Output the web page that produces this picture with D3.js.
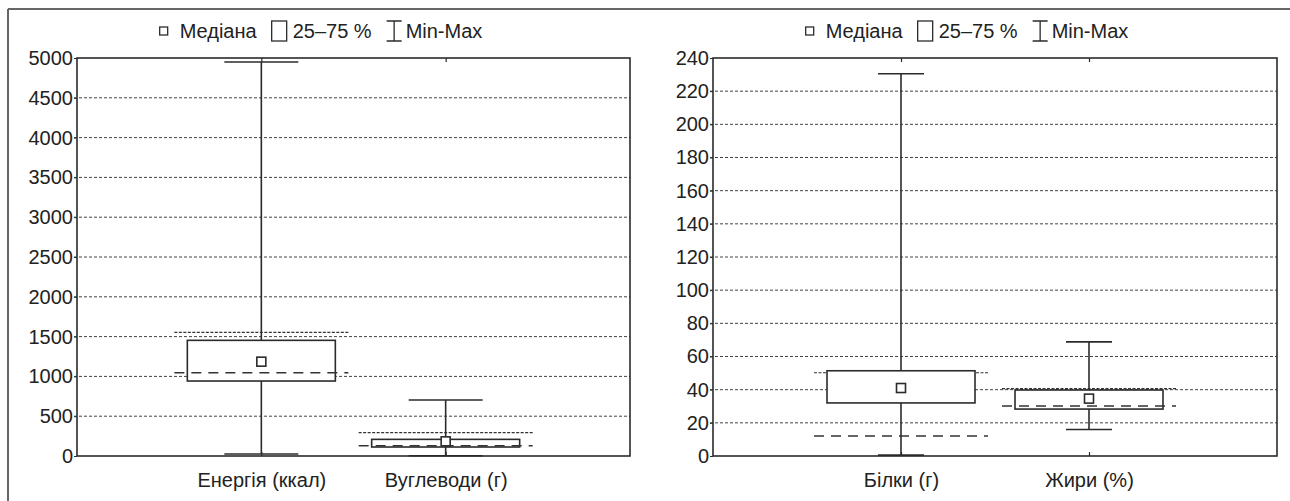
<!DOCTYPE html>
<html><head><meta charset="utf-8">
<script src="https://cdn.jsdelivr.net/npm/d3@7"></script>
<style>
body{margin:0;background:#fff;}
text{font-family:"Liberation Sans",Arial,sans-serif;fill:#222;}
</style></head><body>
<svg id="c" width="1290" height="501"></svg>
<script>
// ---------- data ----------
const leftCats = ["Енергія (ккал)", "Вуглеводи (г)"];
const leftMin = [25, 4];
const leftQ1 = [942, 113];
const leftMedian = [1185, 184];
const leftQ3 = [1453, 209];
const leftMax = [4950, 703];
const leftRefUpper = [1554, 293];
const leftRefLower = [1047, 130];
const leftTicks = [0, 500, 1000, 1500, 2000, 2500, 3000, 3500, 4000, 4500, 5000];

const rightCats = ["Білки (г)", "Жири (%)"];
const rightMin = [0.5, 16];
const rightQ1 = [32, 28.3];
const rightMedian = [41, 34.6];
const rightQ3 = [51.4, 39.8];
const rightMax = [230.5, 68.8];
const rightRefUpper = [50.2, 40.6];
const rightRefLower = [12, 30.2];
const rightTicks = [0, 20, 40, 60, 80, 100, 120, 140, 160, 180, 200, 220, 240];

const legendLabels = ["Медіана", "25–75 %", "Min-Max"];

// ---------- drawing ----------
const svg = d3.select("#c");
const FONT = 20;
const INK = "#2b2b2b";

// outer border
svg.append("line").attr("x1",8).attr("x2",1290).attr("y1",9).attr("y2",9)
  .attr("stroke","#666").attr("stroke-width",2);
svg.append("line").attr("x1",8).attr("x2",8).attr("y1",9).attr("y2",501)
  .attr("stroke","#666").attr("stroke-width",2);

function panel(cfg){
  const {x0,x1,y0,y1,domain,ticks,cats,mn,q1,med,q3,mx,refU,refL,capHalf,legendCx} = cfg;
  const g = svg.append("g");
  const y = d3.scaleLinear().domain(domain).range([y1,y0]);
  const x = d3.scalePoint().domain(cats).range([x0,x1]).padding(1);

  // gridlines
  g.selectAll(".grid").data(ticks.filter(t=>t!==domain[0] && t!==domain[1])).enter()
    .append("line").attr("x1",x0-3).attr("x2",x1).attr("y1",d=>y(d)).attr("y2",d=>y(d))
    .attr("stroke","#444").attr("stroke-width",1).attr("stroke-dasharray","3,2");

  // y axis labels via d3 axis
  const ax = g.append("g").attr("transform",`translate(${x0},0)`)
    .call(d3.axisLeft(y).tickValues(ticks).tickSize(3).tickPadding(1).tickFormat(d3.format("d")));
  ax.select(".domain").remove();
  ax.selectAll(".tick line").attr("stroke",INK).attr("stroke-width",1);
  ax.selectAll(".tick text").attr("font-size",FONT).attr("fill","#222")
    .style("font-family",'"Liberation Sans",Arial,sans-serif');

  // x axis labels
  const bx = g.append("g").attr("transform",`translate(0,${y1})`)
    .call(d3.axisBottom(x).tickSize(-4).tickPadding(0));
  bx.select(".domain").remove();
  bx.selectAll(".tick line").attr("stroke",INK).attr("stroke-width",1.2);
  bx.selectAll(".tick text").attr("font-size",FONT).attr("fill","#222").attr("dy",null)
    .attr("y",31).style("font-family",'"Liberation Sans",Arial,sans-serif');
  // top ticks
  const tx = g.append("g").attr("transform",`translate(0,${y0})`)
    .call(d3.axisTop(x).tickSize(-4).tickFormat(""));
  tx.select(".domain").remove();
  tx.selectAll(".tick line").attr("stroke",INK).attr("stroke-width",1.2);

  // reference lines
  g.selectAll(".refu").data(cats).enter().append("line")
    .attr("x1",d=>x(d)-87).attr("x2",d=>x(d)+87)
    .attr("y1",(d,i)=>y(refU[i])).attr("y2",(d,i)=>y(refU[i]))
    .attr("stroke","#333").attr("stroke-width",1.2).attr("stroke-dasharray","3,1.5");
  // whiskers
  g.selectAll(".wh").data(cats).enter().append("line")
    .attr("x1",d=>x(d)).attr("x2",d=>x(d))
    .attr("y1",(d,i)=>y(mx[i])).attr("y2",(d,i)=>y(mn[i]))
    .attr("stroke",INK).attr("stroke-width",1.6);
  [mx,mn].forEach(arr=>{
    g.selectAll(null).data(cats).enter().append("line")
      .attr("x1",d=>x(d)-capHalf).attr("x2",d=>x(d)+capHalf)
      .attr("y1",(d,i)=>y(arr[i])).attr("y2",(d,i)=>y(arr[i]))
      .attr("stroke",INK).attr("stroke-width",1.6);
  });
  // boxes
  g.selectAll(".box").data(cats).enter().append("rect")
    .attr("x",d=>x(d)-74).attr("width",148)
    .attr("y",(d,i)=>y(q3[i])).attr("height",(d,i)=>y(q1[i])-y(q3[i]))
    .attr("fill","#fff").attr("stroke",INK).attr("stroke-width",1.6);
  // lower dashed reference
  g.selectAll(".refl").data(cats).enter().append("line")
    .attr("x1",d=>x(d)-87).attr("x2",d=>x(d)+87)
    .attr("y1",(d,i)=>y(refL[i])).attr("y2",(d,i)=>y(refL[i]))
    .attr("stroke","#333").attr("stroke-width",1.5).attr("stroke-dasharray","10,7");
  // medians
  g.selectAll(".med").data(cats).enter().append("rect")
    .attr("x",d=>x(d)-4.5).attr("width",9)
    .attr("y",(d,i)=>y(med[i])-4.5).attr("height",9)
    .attr("fill","#fff").attr("stroke",INK).attr("stroke-width",1.6);

  // frame
  g.append("rect").attr("x",x0).attr("y",y0).attr("width",x1-x0).attr("height",y1-y0)
    .attr("fill","none").attr("stroke",INK).attr("stroke-width",1.6);

  // legend
  const lg = svg.append("g");
  const ly = 31;
  let cx = 0;
  lg.append("rect").attr("x",cx).attr("y",ly-4).attr("width",8).attr("height",8)
    .attr("fill","#fff").attr("stroke",INK).attr("stroke-width",1.3);
  cx += 8 + 12;
  let t = lg.append("text").attr("x",cx).attr("y",ly+7).attr("font-size",FONT).text(legendLabels[0]);
  cx += t.node().getComputedTextLength() + 15;
  lg.append("rect").attr("x",cx).attr("y",ly-10).attr("width",15).attr("height",20)
    .attr("fill","#fff").attr("stroke",INK).attr("stroke-width",1.3);
  cx += 15 + 6;
  t = lg.append("text").attr("x",cx).attr("y",ly+7).attr("font-size",FONT).text(legendLabels[1]);
  cx += t.node().getComputedTextLength() + 15;
  lg.append("path").attr("d",`M${cx},${ly-10}H${cx+15}M${cx+7.5},${ly-10}V${ly+10}M${cx},${ly+10}H${cx+15}`)
    .attr("fill","none").attr("stroke",INK).attr("stroke-width",1.3);
  cx += 15 + 4;
  t = lg.append("text").attr("x",cx).attr("y",ly+7).attr("font-size",FONT).text(legendLabels[2]);
  cx += t.node().getComputedTextLength();
  lg.attr("transform",`translate(${legendCx - cx/2},0)`);
}

panel({x0:77,x1:630,y0:58,y1:456,domain:[0,5000],ticks:leftTicks,cats:leftCats,
  mn:leftMin,q1:leftQ1,med:leftMedian,q3:leftQ3,mx:leftMax,refU:leftRefUpper,refL:leftRefLower,
  capHalf:37,legendCx:321});
panel({x0:713,x1:1277,y0:58,y1:456,domain:[0,240],ticks:rightTicks,cats:rightCats,
  mn:rightMin,q1:rightQ1,med:rightMedian,q3:rightQ3,mx:rightMax,refU:rightRefUpper,refL:rightRefLower,
  capHalf:23,legendCx:967});
</script></body></html>
